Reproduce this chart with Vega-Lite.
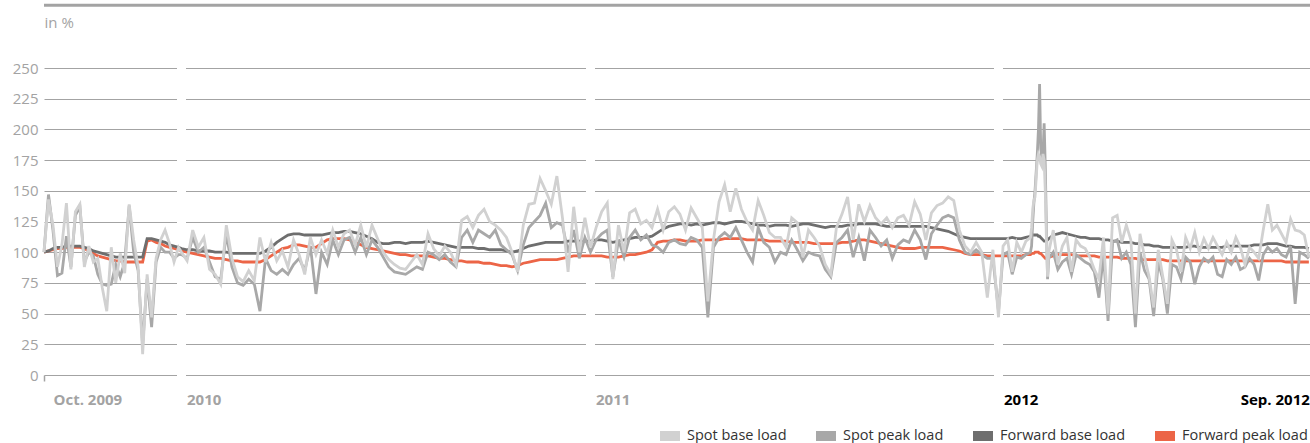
{
"$schema":"https://vega.github.io/schema/vega-lite/v6.json",
"width":1266,"height":307,
"autosize":{"type":"none"},
"padding":{"left":44,"top":68,"right":0,"bottom":68},
"config":{"view":{"stroke":null},"font":"Open Sans"},
"datasets":{"prices":[
{"date":"2009-10-01","sb":100,"sp":100,"fb":100,"fp":100},
{"date":"2009-10-04","sb":143,"sp":147,"fb":101,"fp":101},
{"date":"2009-10-07","sb":122,"sp":118,"fb":103,"fp":102},
{"date":"2009-10-10","sb":88,"sp":81,"fb":104,"fp":103},
{"date":"2009-10-13","sb":106,"sp":83,"fb":104,"fp":103},
{"date":"2009-10-16","sb":140,"sp":113,"fb":105,"fp":104},
{"date":"2009-10-19","sb":86,"sp":88,"fb":105,"fp":104},
{"date":"2009-10-22","sb":133,"sp":130,"fb":105,"fp":104},
{"date":"2009-10-25","sb":139,"sp":137,"fb":105,"fp":104},
{"date":"2009-10-28","sb":88,"sp":92,"fb":104,"fp":103},
{"date":"2009-10-31","sb":105,"sp":100,"fb":103,"fp":101},
{"date":"2009-11-03","sb":92,"sp":97,"fb":101,"fp":99},
{"date":"2009-11-06","sb":95,"sp":82,"fb":100,"fp":97},
{"date":"2009-11-09","sb":71,"sp":74,"fb":99,"fp":96},
{"date":"2009-11-12","sb":52,"sp":73,"fb":98,"fp":95},
{"date":"2009-11-15","sb":104,"sp":74,"fb":97,"fp":94},
{"date":"2009-11-18","sb":75,"sp":90,"fb":96,"fp":93},
{"date":"2009-11-21","sb":99,"sp":80,"fb":96,"fp":93},
{"date":"2009-11-24","sb":83,"sp":92,"fb":96,"fp":92},
{"date":"2009-11-27","sb":139,"sp":138,"fb":96,"fp":92},
{"date":"2009-11-30","sb":110,"sp":100,"fb":96,"fp":92},
{"date":"2009-12-03","sb":88,"sp":85,"fb":96,"fp":92},
{"date":"2009-12-06","sb":17,"sp":24,"fb":96,"fp":92},
{"date":"2009-12-09","sb":82,"sp":78,"fb":111,"fp":109},
{"date":"2009-12-12","sb":47,"sp":39,"fb":111,"fp":110},
{"date":"2009-12-15","sb":95,"sp":92,"fb":110,"fp":108},
{"date":"2009-12-18","sb":110,"sp":104,"fb":109,"fp":107},
{"date":"2009-12-21","sb":118,"sp":100,"fb":108,"fp":105},
{"date":"2009-12-24","sb":107,"sp":100,"fb":106,"fp":104},
{"date":"2009-12-27","sb":92,"sp":95,"fb":105,"fp":103},
{"date":"2009-12-30","sb":104,"sp":98,"fb":104,"fp":102},
{"date":"2010-01-01","sb":100,"sp":98,"fb":103,"fp":101},
{"date":"2010-01-06","sb":93,"sp":95,"fb":102,"fp":100},
{"date":"2010-01-11","sb":118,"sp":112,"fb":102,"fp":99},
{"date":"2010-01-16","sb":104,"sp":100,"fb":101,"fp":98},
{"date":"2010-01-21","sb":112,"sp":104,"fb":101,"fp":97},
{"date":"2010-01-26","sb":86,"sp":92,"fb":101,"fp":96},
{"date":"2010-01-31","sb":82,"sp":80,"fb":100,"fp":95},
{"date":"2010-02-05","sb":74,"sp":78,"fb":100,"fp":95},
{"date":"2010-02-10","sb":122,"sp":115,"fb":100,"fp":94},
{"date":"2010-02-15","sb":95,"sp":88,"fb":99,"fp":93},
{"date":"2010-02-20","sb":80,"sp":75,"fb":99,"fp":93},
{"date":"2010-02-25","sb":76,"sp":73,"fb":99,"fp":92},
{"date":"2010-03-02","sb":85,"sp":78,"fb":99,"fp":92},
{"date":"2010-03-07","sb":77,"sp":74,"fb":99,"fp":92},
{"date":"2010-03-12","sb":112,"sp":52,"fb":99,"fp":92},
{"date":"2010-03-17","sb":92,"sp":95,"fb":101,"fp":94},
{"date":"2010-03-22","sb":108,"sp":85,"fb":104,"fp":97},
{"date":"2010-03-27","sb":93,"sp":82,"fb":108,"fp":100},
{"date":"2010-04-01","sb":101,"sp":86,"fb":111,"fp":103},
{"date":"2010-04-06","sb":88,"sp":82,"fb":114,"fp":104},
{"date":"2010-04-11","sb":110,"sp":90,"fb":115,"fp":106},
{"date":"2010-04-16","sb":98,"sp":95,"fb":115,"fp":106},
{"date":"2010-04-21","sb":82,"sp":85,"fb":114,"fp":105},
{"date":"2010-04-26","sb":112,"sp":105,"fb":114,"fp":104},
{"date":"2010-05-01","sb":98,"sp":66,"fb":114,"fp":104},
{"date":"2010-05-06","sb":110,"sp":100,"fb":114,"fp":107},
{"date":"2010-05-11","sb":99,"sp":90,"fb":115,"fp":110},
{"date":"2010-05-16","sb":118,"sp":110,"fb":116,"fp":111},
{"date":"2010-05-21","sb":104,"sp":98,"fb":116,"fp":111},
{"date":"2010-05-26","sb":115,"sp":110,"fb":117,"fp":111},
{"date":"2010-05-31","sb":118,"sp":112,"fb":117,"fp":110},
{"date":"2010-06-05","sb":106,"sp":100,"fb":116,"fp":108},
{"date":"2010-06-10","sb":122,"sp":112,"fb":115,"fp":106},
{"date":"2010-06-15","sb":104,"sp":98,"fb":113,"fp":104},
{"date":"2010-06-20","sb":122,"sp":110,"fb":111,"fp":103},
{"date":"2010-06-25","sb":111,"sp":104,"fb":108,"fp":102},
{"date":"2010-06-30","sb":100,"sp":96,"fb":107,"fp":101},
{"date":"2010-07-05","sb":94,"sp":88,"fb":107,"fp":100},
{"date":"2010-07-10","sb":90,"sp":84,"fb":108,"fp":99},
{"date":"2010-07-15","sb":87,"sp":83,"fb":108,"fp":98},
{"date":"2010-07-20","sb":86,"sp":82,"fb":107,"fp":98},
{"date":"2010-07-25","sb":92,"sp":85,"fb":108,"fp":97},
{"date":"2010-07-30","sb":98,"sp":88,"fb":108,"fp":97},
{"date":"2010-08-04","sb":90,"sp":86,"fb":108,"fp":97},
{"date":"2010-08-09","sb":115,"sp":100,"fb":109,"fp":97},
{"date":"2010-08-14","sb":103,"sp":98,"fb":108,"fp":96},
{"date":"2010-08-19","sb":97,"sp":94,"fb":107,"fp":95},
{"date":"2010-08-24","sb":105,"sp":98,"fb":106,"fp":95},
{"date":"2010-08-29","sb":100,"sp":92,"fb":105,"fp":94},
{"date":"2010-09-03","sb":90,"sp":88,"fb":104,"fp":93},
{"date":"2010-09-08","sb":126,"sp":112,"fb":104,"fp":93},
{"date":"2010-09-13","sb":129,"sp":118,"fb":104,"fp":92},
{"date":"2010-09-18","sb":120,"sp":108,"fb":104,"fp":92},
{"date":"2010-09-23","sb":130,"sp":118,"fb":103,"fp":92},
{"date":"2010-09-28","sb":135,"sp":115,"fb":103,"fp":91},
{"date":"2010-10-03","sb":125,"sp":112,"fb":102,"fp":91},
{"date":"2010-10-08","sb":122,"sp":118,"fb":102,"fp":90},
{"date":"2010-10-13","sb":118,"sp":106,"fb":102,"fp":89},
{"date":"2010-10-18","sb":112,"sp":102,"fb":101,"fp":89},
{"date":"2010-10-23","sb":100,"sp":98,"fb":100,"fp":88},
{"date":"2010-10-28","sb":84,"sp":85,"fb":101,"fp":89},
{"date":"2010-11-02","sb":122,"sp":106,"fb":103,"fp":91},
{"date":"2010-11-07","sb":139,"sp":120,"fb":105,"fp":92},
{"date":"2010-11-12","sb":140,"sp":125,"fb":106,"fp":93},
{"date":"2010-11-17","sb":160,"sp":130,"fb":107,"fp":94},
{"date":"2010-11-22","sb":150,"sp":140,"fb":108,"fp":94},
{"date":"2010-11-27","sb":139,"sp":120,"fb":108,"fp":94},
{"date":"2010-12-02","sb":162,"sp":124,"fb":108,"fp":94},
{"date":"2010-12-07","sb":128,"sp":122,"fb":108,"fp":95},
{"date":"2010-12-12","sb":84,"sp":100,"fb":109,"fp":96},
{"date":"2010-12-17","sb":137,"sp":118,"fb":109,"fp":97},
{"date":"2010-12-22","sb":100,"sp":95,"fb":109,"fp":97},
{"date":"2010-12-27","sb":128,"sp":112,"fb":109,"fp":97},
{"date":"2011-01-01","sb":104,"sp":100,"fb":109,"fp":97},
{"date":"2011-01-06","sb":120,"sp":110,"fb":110,"fp":97},
{"date":"2011-01-11","sb":133,"sp":115,"fb":110,"fp":97},
{"date":"2011-01-16","sb":140,"sp":118,"fb":109,"fp":96},
{"date":"2011-01-21","sb":78,"sp":80,"fb":108,"fp":96},
{"date":"2011-01-26","sb":122,"sp":110,"fb":109,"fp":96},
{"date":"2011-01-31","sb":100,"sp":96,"fb":110,"fp":97},
{"date":"2011-02-05","sb":132,"sp":112,"fb":111,"fp":98},
{"date":"2011-02-10","sb":135,"sp":118,"fb":112,"fp":98},
{"date":"2011-02-15","sb":123,"sp":110,"fb":112,"fp":99},
{"date":"2011-02-20","sb":126,"sp":114,"fb":112,"fp":100},
{"date":"2011-02-25","sb":120,"sp":106,"fb":113,"fp":102},
{"date":"2011-03-02","sb":135,"sp":104,"fb":116,"fp":108},
{"date":"2011-03-07","sb":118,"sp":100,"fb":119,"fp":109},
{"date":"2011-03-12","sb":133,"sp":108,"fb":121,"fp":109},
{"date":"2011-03-17","sb":137,"sp":110,"fb":122,"fp":110},
{"date":"2011-03-22","sb":131,"sp":107,"fb":123,"fp":110},
{"date":"2011-03-27","sb":118,"sp":106,"fb":123,"fp":109},
{"date":"2011-04-01","sb":136,"sp":112,"fb":122,"fp":109},
{"date":"2011-04-06","sb":128,"sp":110,"fb":123,"fp":109},
{"date":"2011-04-11","sb":120,"sp":104,"fb":122,"fp":110},
{"date":"2011-04-16","sb":60,"sp":47,"fb":123,"fp":110},
{"date":"2011-04-21","sb":110,"sp":104,"fb":124,"fp":110},
{"date":"2011-04-26","sb":141,"sp":112,"fb":124,"fp":110},
{"date":"2011-05-01","sb":155,"sp":116,"fb":123,"fp":111},
{"date":"2011-05-06","sb":133,"sp":112,"fb":124,"fp":111},
{"date":"2011-05-11","sb":152,"sp":120,"fb":125,"fp":111},
{"date":"2011-05-16","sb":135,"sp":110,"fb":125,"fp":111},
{"date":"2011-05-21","sb":125,"sp":100,"fb":124,"fp":110},
{"date":"2011-05-26","sb":118,"sp":92,"fb":123,"fp":110},
{"date":"2011-05-31","sb":142,"sp":120,"fb":122,"fp":110},
{"date":"2011-06-05","sb":130,"sp":108,"fb":122,"fp":110},
{"date":"2011-06-10","sb":116,"sp":104,"fb":121,"fp":109},
{"date":"2011-06-15","sb":112,"sp":92,"fb":122,"fp":109},
{"date":"2011-06-20","sb":112,"sp":100,"fb":122,"fp":109},
{"date":"2011-06-25","sb":104,"sp":98,"fb":122,"fp":109},
{"date":"2011-06-30","sb":128,"sp":110,"fb":121,"fp":108},
{"date":"2011-07-05","sb":124,"sp":102,"fb":122,"fp":108},
{"date":"2011-07-10","sb":96,"sp":93,"fb":123,"fp":108},
{"date":"2011-07-15","sb":118,"sp":100,"fb":123,"fp":108},
{"date":"2011-07-20","sb":112,"sp":98,"fb":122,"fp":107},
{"date":"2011-07-25","sb":105,"sp":97,"fb":121,"fp":107},
{"date":"2011-07-30","sb":90,"sp":86,"fb":120,"fp":107},
{"date":"2011-08-04","sb":82,"sp":80,"fb":121,"fp":107},
{"date":"2011-08-09","sb":120,"sp":108,"fb":121,"fp":107},
{"date":"2011-08-14","sb":131,"sp":112,"fb":121,"fp":108},
{"date":"2011-08-19","sb":145,"sp":118,"fb":122,"fp":108},
{"date":"2011-08-24","sb":110,"sp":96,"fb":122,"fp":109},
{"date":"2011-08-29","sb":139,"sp":112,"fb":123,"fp":110},
{"date":"2011-09-03","sb":125,"sp":93,"fb":123,"fp":110},
{"date":"2011-09-08","sb":138,"sp":118,"fb":123,"fp":109},
{"date":"2011-09-13","sb":128,"sp":112,"fb":123,"fp":108},
{"date":"2011-09-18","sb":123,"sp":105,"fb":122,"fp":107},
{"date":"2011-09-23","sb":128,"sp":110,"fb":121,"fp":106},
{"date":"2011-09-28","sb":120,"sp":95,"fb":121,"fp":105},
{"date":"2011-10-03","sb":128,"sp":106,"fb":121,"fp":104},
{"date":"2011-10-08","sb":130,"sp":110,"fb":121,"fp":103},
{"date":"2011-10-13","sb":122,"sp":108,"fb":121,"fp":103},
{"date":"2011-10-18","sb":141,"sp":118,"fb":121,"fp":103},
{"date":"2011-10-23","sb":131,"sp":110,"fb":121,"fp":104},
{"date":"2011-10-28","sb":110,"sp":94,"fb":121,"fp":104},
{"date":"2011-11-02","sb":132,"sp":115,"fb":120,"fp":104},
{"date":"2011-11-07","sb":138,"sp":122,"fb":119,"fp":104},
{"date":"2011-11-12","sb":140,"sp":128,"fb":118,"fp":104},
{"date":"2011-11-17","sb":145,"sp":130,"fb":117,"fp":103},
{"date":"2011-11-22","sb":142,"sp":128,"fb":115,"fp":102},
{"date":"2011-11-27","sb":118,"sp":110,"fb":113,"fp":101},
{"date":"2011-12-02","sb":105,"sp":100,"fb":112,"fp":99},
{"date":"2011-12-07","sb":100,"sp":98,"fb":111,"fp":98},
{"date":"2011-12-12","sb":108,"sp":102,"fb":111,"fp":98},
{"date":"2011-12-17","sb":100,"sp":98,"fb":111,"fp":98},
{"date":"2011-12-22","sb":63,"sp":95,"fb":111,"fp":97},
{"date":"2011-12-27","sb":102,"sp":95,"fb":111,"fp":97},
{"date":"2012-01-01","sb":47,"sp":52,"fb":111,"fp":97},
{"date":"2012-01-05","sb":105,"sp":98,"fb":111,"fp":97},
{"date":"2012-01-09","sb":110,"sp":100,"fb":111,"fp":97},
{"date":"2012-01-13","sb":84,"sp":82,"fb":112,"fp":97},
{"date":"2012-01-17","sb":108,"sp":96,"fb":111,"fp":97},
{"date":"2012-01-21","sb":100,"sp":95,"fb":111,"fp":97},
{"date":"2012-01-25","sb":109,"sp":98,"fb":112,"fp":98},
{"date":"2012-01-29","sb":112,"sp":100,"fb":113,"fp":98},
{"date":"2012-01-30","sb":120,"sp":105,"fb":114,"fp":99},
{"date":"2012-01-31","sb":135,"sp":125,"fb":114,"fp":99},
{"date":"2012-02-01","sb":142,"sp":140,"fb":114,"fp":99},
{"date":"2012-02-02","sb":145,"sp":150,"fb":114,"fp":100},
{"date":"2012-02-03","sb":160,"sp":165,"fb":114,"fp":100},
{"date":"2012-02-04","sb":175,"sp":180,"fb":114,"fp":100},
{"date":"2012-02-05","sb":180,"sp":200,"fb":113,"fp":100},
{"date":"2012-02-06","sb":178,"sp":237,"fb":113,"fp":99},
{"date":"2012-02-07","sb":172,"sp":185,"fb":112,"fp":99},
{"date":"2012-02-08","sb":170,"sp":175,"fb":111,"fp":98},
{"date":"2012-02-09","sb":180,"sp":180,"fb":110,"fp":97},
{"date":"2012-02-10","sb":175,"sp":205,"fb":109,"fp":96},
{"date":"2012-02-11","sb":150,"sp":170,"fb":109,"fp":95},
{"date":"2012-02-12","sb":110,"sp":120,"fb":109,"fp":95},
{"date":"2012-02-13","sb":80,"sp":78,"fb":110,"fp":95},
{"date":"2012-02-14","sb":100,"sp":95,"fb":111,"fp":96},
{"date":"2012-02-18","sb":118,"sp":100,"fb":114,"fp":97},
{"date":"2012-02-22","sb":90,"sp":86,"fb":115,"fp":98},
{"date":"2012-02-26","sb":105,"sp":92,"fb":116,"fp":98},
{"date":"2012-03-01","sb":112,"sp":95,"fb":115,"fp":98},
{"date":"2012-03-05","sb":84,"sp":82,"fb":114,"fp":98},
{"date":"2012-03-09","sb":110,"sp":98,"fb":113,"fp":97},
{"date":"2012-03-13","sb":105,"sp":95,"fb":112,"fp":97},
{"date":"2012-03-17","sb":103,"sp":92,"fb":112,"fp":97},
{"date":"2012-03-21","sb":96,"sp":90,"fb":111,"fp":97},
{"date":"2012-03-25","sb":86,"sp":84,"fb":111,"fp":97},
{"date":"2012-03-29","sb":78,"sp":63,"fb":111,"fp":96},
{"date":"2012-04-02","sb":112,"sp":98,"fb":110,"fp":96},
{"date":"2012-04-06","sb":50,"sp":44,"fb":110,"fp":96},
{"date":"2012-04-10","sb":128,"sp":108,"fb":109,"fp":96},
{"date":"2012-04-14","sb":130,"sp":110,"fb":109,"fp":96},
{"date":"2012-04-18","sb":108,"sp":95,"fb":108,"fp":95},
{"date":"2012-04-22","sb":122,"sp":100,"fb":108,"fp":95},
{"date":"2012-04-26","sb":110,"sp":90,"fb":108,"fp":95},
{"date":"2012-04-30","sb":50,"sp":39,"fb":107,"fp":95},
{"date":"2012-05-04","sb":115,"sp":100,"fb":107,"fp":94},
{"date":"2012-05-08","sb":96,"sp":85,"fb":106,"fp":94},
{"date":"2012-05-12","sb":80,"sp":78,"fb":106,"fp":94},
{"date":"2012-05-16","sb":55,"sp":48,"fb":105,"fp":94},
{"date":"2012-05-20","sb":102,"sp":92,"fb":105,"fp":94},
{"date":"2012-05-24","sb":80,"sp":78,"fb":104,"fp":94},
{"date":"2012-05-28","sb":58,"sp":50,"fb":104,"fp":93},
{"date":"2012-06-01","sb":110,"sp":90,"fb":104,"fp":93},
{"date":"2012-06-05","sb":102,"sp":88,"fb":104,"fp":93},
{"date":"2012-06-09","sb":84,"sp":78,"fb":104,"fp":93},
{"date":"2012-06-13","sb":112,"sp":96,"fb":104,"fp":93},
{"date":"2012-06-17","sb":103,"sp":92,"fb":105,"fp":93},
{"date":"2012-06-21","sb":116,"sp":74,"fb":105,"fp":93},
{"date":"2012-06-25","sb":100,"sp":88,"fb":104,"fp":93},
{"date":"2012-06-29","sb":111,"sp":95,"fb":104,"fp":93},
{"date":"2012-07-03","sb":103,"sp":92,"fb":104,"fp":93},
{"date":"2012-07-07","sb":112,"sp":96,"fb":104,"fp":93},
{"date":"2012-07-11","sb":105,"sp":82,"fb":104,"fp":93},
{"date":"2012-07-15","sb":98,"sp":80,"fb":104,"fp":93},
{"date":"2012-07-19","sb":108,"sp":94,"fb":105,"fp":93},
{"date":"2012-07-23","sb":100,"sp":90,"fb":105,"fp":93},
{"date":"2012-07-27","sb":112,"sp":96,"fb":105,"fp":93},
{"date":"2012-07-31","sb":104,"sp":86,"fb":105,"fp":93},
{"date":"2012-08-04","sb":90,"sp":88,"fb":105,"fp":93},
{"date":"2012-08-08","sb":104,"sp":95,"fb":105,"fp":93},
{"date":"2012-08-12","sb":100,"sp":90,"fb":106,"fp":93},
{"date":"2012-08-16","sb":95,"sp":77,"fb":106,"fp":93},
{"date":"2012-08-20","sb":118,"sp":98,"fb":106,"fp":93},
{"date":"2012-08-24","sb":139,"sp":104,"fb":107,"fp":93},
{"date":"2012-08-28","sb":118,"sp":100,"fb":107,"fp":93},
{"date":"2012-09-01","sb":122,"sp":103,"fb":107,"fp":93},
{"date":"2012-09-05","sb":115,"sp":98,"fb":106,"fp":93},
{"date":"2012-09-09","sb":108,"sp":96,"fb":105,"fp":92},
{"date":"2012-09-13","sb":127,"sp":105,"fb":105,"fp":92},
{"date":"2012-09-17","sb":118,"sp":58,"fb":104,"fp":92},
{"date":"2012-09-21","sb":117,"sp":100,"fb":104,"fp":92},
{"date":"2012-09-25","sb":114,"sp":98,"fb":104,"fp":92},
{"date":"2012-09-29","sb":96,"sp":95,"fb":103,"fp":92}
]},
"encoding":{
 "x":{"field":"date","type":"temporal",
  "scale":{"type":"utc","nice":false,"domain":{"expr":"[utc(2009,9,1), utc(2010,0,1), utc(2011,0,1), utc(2012,0,1), utc(2012,8,30)]"},"range":[0,137.5,546.5,954.5,1266]},
  "axis":{"title":null,"grid":false,"domain":false,
   "values":[{"year":2009,"month":10,"date":1,"utc":true},{"year":2010,"month":1,"date":1,"utc":true},{"year":2011,"month":1,"date":1,"utc":true},{"year":2012,"month":1,"date":1,"utc":true},{"year":2012,"month":9,"date":25,"utc":true}],
   "labelExpr":"utcyear(datum.value)==2009 ? 'Oct. 2009' : (utcmonth(datum.value)==8 ? 'Sep. 2012' : ('' + utcyear(datum.value)))",
   "labelAlign":{"condition":{"test":"utcmonth(datum.value)==8","value":"right"},"value":"left"},
   "labelOffset":{"condition":{"test":"utcyear(datum.value)==2009","value":9},"value":5},
   "labelColor":{"condition":{"test":"utcyear(datum.value)==2012","value":"#000000"},"value":"#a3a3a3"},
   "tickOpacity":{"condition":{"test":"utcyear(datum.value)==2009","value":1},"value":0},
   "tickColor":"#a3a3a3","tickSize":6,"tickWidth":1.5,
   "labelFont":"Open Sans","labelFontSize":15,"labelFontWeight":"bold","labelPadding":11,"labelFlush":false,"labelOverlap":false}},
 "y":{"field":"value","type":"quantitative",
  "scale":{"domain":[0,250],"nice":false,"zero":true},
  "axis":{"title":"in %","titleAngle":0,"titleAlign":"left","titleBaseline":"alphabetic","titleX":0,"titleY":-41,
   "titleFont":"Open Sans","titleFontSize":15,"titleFontWeight":"normal","titleColor":"#a3a3a3",
   "values":[0,25,50,75,100,125,150,175,200,225,250],"grid":true,"gridColor":"#a3a3a3","gridWidth":1,"labelOverlap":false,
   "domain":false,"ticks":false,"labelPadding":6,"labelFont":"Open Sans","labelFontSize":15,"labelColor":"#a3a3a3","labelFlush":false}},
 "color":{"field":"series","type":"nominal",
  "scale":{"domain":["sb","sp","fb","fp"],"range":["#d1d1d1","#a8a8a8","#6e6e6e","#ec6547"]},
  "legend":{"title":null,"orient":"none","legendX":611,"legendY":353,"direction":"horizontal",
   "labelExpr":"{'sb':'Spot base load','sp':'Spot peak load','fb':'Forward base load','fp':'Forward peak load'}[datum.label]",
   "symbolType":"stroke","symbolSize":400,"symbolStrokeWidth":10,"labelFont":"Open Sans","labelFontSize":14.5,"labelColor":"#333333",
   "columnPadding":9,"labelOffset":2,"padding":0,
   "encode":{"symbols":{"update":{"strokeWidth":{"value":10}}}}}}
},
"layer":[
 {"data":{"values":[{"date":"2010-01-01","value":-3,"value2":253},{"date":"2011-01-01","value":-3,"value2":253},{"date":"2012-01-01","value":-3,"value2":253}]},
  "mark":{"type":"rule","strokeWidth":9},
  "encoding":{"y2":{"field":"value2"},"color":{"value":"#ffffff"}}},
 {"data":{"values":[{"date":"2009-10-01","value":301},{"date":"2012-09-30","value":301}]},
  "mark":{"type":"line","strokeWidth":3},
  "encoding":{"color":{"value":"#a3a3a3"}}},
 {"data":{"name":"prices"},"transform":[{"fold":["fp"],"as":["series","value"]}],"mark":{"type":"line","strokeWidth":2.8},"encoding":{}},
 {"data":{"name":"prices"},"transform":[{"fold":["fb"],"as":["series","value"]}],"mark":{"type":"line","strokeWidth":2.8},"encoding":{}},
 {"data":{"name":"prices"},"transform":[{"fold":["sp"],"as":["series","value"]}],"mark":{"type":"line","strokeWidth":2.8},"encoding":{}},
 {"data":{"name":"prices"},"transform":[{"fold":["sb"],"as":["series","value"]}],"mark":{"type":"line","strokeWidth":2.8},"encoding":{}}
]
}
